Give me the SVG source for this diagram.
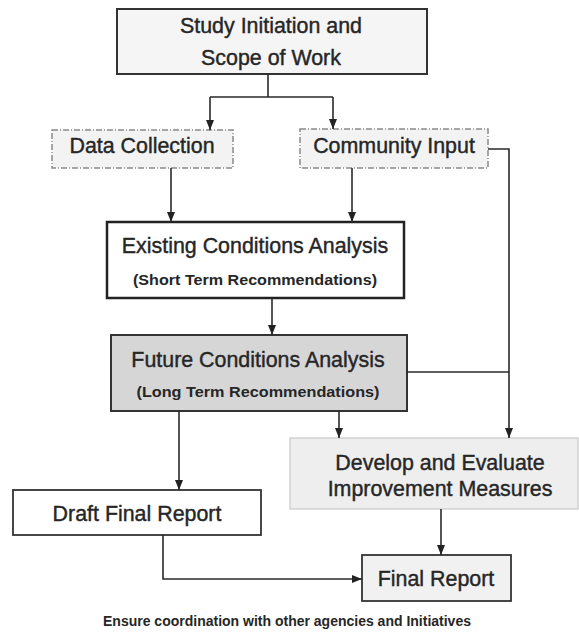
<svg xmlns="http://www.w3.org/2000/svg" width="579" height="632" viewBox="0 0 579 632">
<defs>
<marker id="arr" markerUnits="userSpaceOnUse" markerWidth="10" markerHeight="10" viewBox="0 0 10 10" refX="10" refY="5" orient="auto">
<path d="M0,1 L10,5 L0,9 Z" fill="#222"/>
</marker>
<style>
text{font-family:"Liberation Sans",Arial,sans-serif;fill:#262626;text-anchor:middle}
.t{font-size:21.4px;stroke:#262626;stroke-width:0.4}
.s{font-size:15.5px;font-weight:bold}
.f{font-size:14px;font-weight:bold}
.c{fill:none;stroke:#2a2a2a;stroke-width:1.6}
.ca{fill:none;stroke:#2a2a2a;stroke-width:1.6;marker-end:url(#arr)}
</style>
</defs>
<g id="study-initiation">
<rect x="117" y="9" width="310" height="65" fill="#f5f5f5" stroke="#333" stroke-width="2"/>
<text class="t" x="271" y="33">Study Initiation and</text>
<text class="t" x="271" y="65">Scope of Work</text>
</g>
<g id="data-collection">
<rect x="52" y="130" width="181" height="38" fill="#f3f3f3" stroke="#8a8a8a" stroke-width="1.5" stroke-dasharray="6 2 1 2"/>
<text class="t" x="142" y="153">Data Collection</text>
</g>
<g id="community-input">
<rect x="300" y="129" width="188" height="39" fill="#f3f3f3" stroke="#8a8a8a" stroke-width="1.5" stroke-dasharray="6 2 1 2"/>
<text class="t" x="394" y="153">Community Input</text>
</g>
<g id="existing-conditions">
<rect x="107" y="222" width="297" height="76" fill="#ffffff" stroke="#222" stroke-width="2.5"/>
<text class="t" x="255" y="253">Existing Conditions Analysis</text>
<text class="s" x="255" y="285" textLength="244" lengthAdjust="spacingAndGlyphs">(Short Term Recommendations)</text>
</g>
<g id="future-conditions">
<rect x="111" y="335" width="296" height="76" fill="#d6d6d6" stroke="#333" stroke-width="2"/>
<text class="t" x="258" y="367">Future Conditions Analysis</text>
<text class="s" x="258" y="397" textLength="243" lengthAdjust="spacingAndGlyphs">(Long Term Recommendations)</text>
</g>
<g id="develop-evaluate">
<rect x="290" y="438" width="288" height="71" fill="#eeeeee" stroke="#c8c8c8" stroke-width="1.2"/>
<text class="t" x="440" y="470">Develop and Evaluate</text>
<text class="t" x="440" y="496">Improvement Measures</text>
</g>
<g id="draft-final-report">
<rect x="13" y="490" width="248" height="45" fill="#ffffff" stroke="#333" stroke-width="1.8"/>
<text class="t" x="137" y="521">Draft Final Report</text>
</g>
<g id="final-report">
<rect x="362" y="555" width="149" height="46" fill="#f1f1f1" stroke="#333" stroke-width="1.8"/>
<text class="t" x="436" y="586">Final Report</text>
</g>
<g id="connectors">
<path class="c" d="M268,74 V97 M210,97 H333"/>
<path class="ca" d="M210,97 V130"/>
<path class="ca" d="M333,97 V129"/>
<path class="ca" d="M171,168 V222"/>
<path class="ca" d="M352,168 V222"/>
<path class="ca" d="M488,149 H509 V438"/>
<path class="c" d="M407,372 H509"/>
<path class="ca" d="M272,298 V335"/>
<path class="ca" d="M179,411 V490"/>
<path class="ca" d="M339,411 V438"/>
<path class="ca" d="M441,509 V555"/>
<path class="ca" d="M163,535 V579 H362"/>
</g>
<text class="f" x="287" y="626">Ensure coordination with other agencies and Initiatives</text>
</svg>
